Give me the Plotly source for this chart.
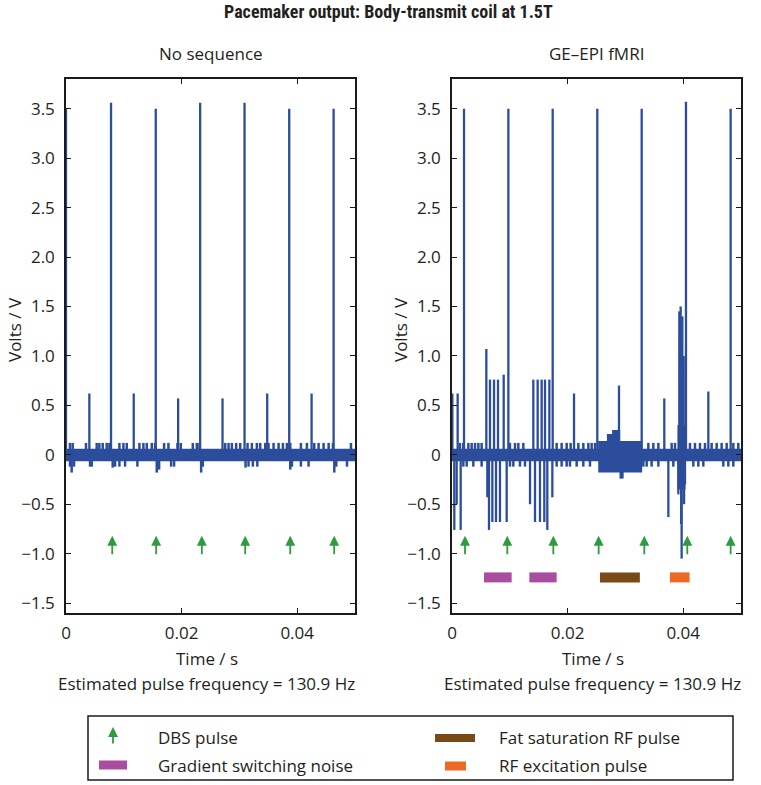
import plotly.graph_objects as go

# ---------------- data ----------------
# Left panel: "No sequence"
left_pulse_t = [0.0, 0.00779, 0.01553, 0.02321, 0.03089, 0.03862, 0.0463]
left_pulse_v = [3.50, 3.56, 3.50, 3.56, 3.56, 3.50, 3.50]
left_small_t = [0.00404, 0.01172, 0.0194, 0.02708, 0.03481, 0.04249]
left_small_v = [0.62, 0.62, 0.57, 0.57, 0.62, 0.62]
left_blip_t = [0.00069, 0.00116, 0.00346, 0.00531, 0.00577, 0.00635, 0.00704, 0.00751,
               0.00924, 0.00993, 0.01051, 0.0127, 0.01339, 0.01397, 0.01484, 0.01541,
               0.01697, 0.01772, 0.01928, 0.01986, 0.02194, 0.02263, 0.02309, 0.02754,
               0.02812, 0.02869, 0.02944, 0.03014, 0.03141, 0.03216, 0.03302, 0.0336,
               0.03447, 0.03504, 0.03591, 0.03678, 0.03753, 0.03822, 0.0388, 0.04064,
               0.04168, 0.04295, 0.0437, 0.04457, 0.04544, 0.04619, 0.0493,
               0.00069, 0.00098, 0.00139, 0.00416, 0.00445, 0.00808, 0.00849, 0.00924,
               0.01022, 0.01235, 0.0157, 0.01611, 0.01819, 0.0187, 0.02338, 0.02367,
               0.03106, 0.03158, 0.03233, 0.0331, 0.0388, 0.03909, 0.04064, 0.04197,
               0.04642, 0.04676, 0.04861]
left_blip_v = [0.12] * 47 + [
               -0.12, -0.18, -0.12, -0.12, -0.12, -0.13, -0.12, -0.12,
               -0.12, -0.12, -0.18, -0.15, -0.12, -0.12, -0.18, -0.12,
               -0.13, -0.12, -0.12, -0.12, -0.15, -0.12, -0.12, -0.12,
               -0.18, -0.12, -0.12]
left_band_t = [0.0, 0.05]
left_band_hi = [0.06, 0.06]
left_band_lo = [-0.065, -0.065]
left_dbs_t = [0.0080, 0.0156, 0.0235, 0.0310, 0.0388, 0.0464]

# Right panel: "GE-EPI fMRI"
right_pulse_t = [0.00208, 0.00975, 0.01742, 0.02514, 0.03282, 0.04048, 0.04821]
right_pulse_v = [3.50, 3.50, 3.50, 3.50, 3.50, 3.57, 3.50]
right_artifact_t = [0.00006, 0.00098, 0.00594, 0.00657, 0.00727, 0.00796, 0.00894,
                    0.01407, 0.01482, 0.01551, 0.01609, 0.01684, 0.02111, 0.02889,
                    0.03673, 0.03933, 0.03945, 0.03956, 0.03985, 0.03995, 0.04008,
                    0.04435,
                    0.0004, 0.00081, 0.0015, 0.00611, 0.0064, 0.00698, 0.00761,
                    0.0083, 0.00946, 0.0135, 0.01436, 0.01522, 0.01597, 0.01649,
                    0.01736, 0.02918, 0.03743, 0.03916, 0.03965, 0.03973, 0.04015,
                    0.04031]
right_artifact_v = [0.62, 0.62, 1.07, 0.76, 0.76, 0.76, 0.81,
                    0.76, 0.76, 0.76, 0.76, 0.76, 0.62, 0.70,
                    0.57, 1.45, 1.20, 1.50, 1.40, 0.80, 1.00,
                    0.64,
                    -0.76, -0.50, -0.76, -0.43, -0.76, -0.68, -0.68,
                    -0.68, -0.68, -0.50, -0.68, -0.68, -0.68, -0.76,
                    -0.43, -0.24, -0.63, -0.40, -0.70, -1.05, -0.50,
                    -0.30]
right_blip_t = [0.00138, 0.00196, 0.00283, 0.0034, 0.00398, 0.00456, 0.00513, 0.01003,
                0.0109, 0.01148, 0.01234, 0.01811, 0.01897, 0.01984, 0.02053, 0.02186,
                0.02272, 0.02359, 0.02416, 0.02474, 0.03397, 0.03483, 0.0357, 0.038,
                0.03858, 0.04117, 0.04204, 0.0429, 0.04377, 0.04492, 0.04579, 0.04665,
                0.04752, 0.04867, 0.04953,
                0.00196, 0.00254, 0.00369, 0.00513, 0.01003, 0.01061, 0.01176, 0.01263,
                0.01811, 0.01897, 0.01984, 0.02041, 0.02157, 0.02272, 0.02387, 0.0331,
                0.03368, 0.03454, 0.0357, 0.03829, 0.04175, 0.04262, 0.04348, 0.04694,
                0.04781, 0.04867]
right_blip_v = [0.12] * 35 + [-0.12] * 26
right_band_t = [0.0, 0.0253, 0.0253, 0.0268, 0.0268, 0.0277, 0.0277, 0.0291, 0.0291,
                0.0297, 0.0297, 0.0329, 0.0329, 0.0390, 0.0390, 0.0404, 0.0404, 0.05]
right_band_hi = [0.06, 0.06, 0.14, 0.14, 0.21, 0.21, 0.25, 0.25, 0.14,
                 0.14, 0.14, 0.14, 0.06, 0.06, 0.30, 0.30, 0.06, 0.06]
right_band_lo = [-0.065, -0.065, -0.18, -0.18, -0.18, -0.18, -0.18, -0.18, -0.24,
                 -0.24, -0.18, -0.18, -0.065, -0.065, -0.35, -0.35, -0.065, -0.065]
right_dbs_t = [0.00225, 0.00957, 0.01753, 0.02537, 0.03327, 0.04071, 0.04821]

# Noise / RF event intervals (right panel)
gradient_start = [0.00554, 0.01338]
gradient_end = [0.01032, 0.01811]
fatsat_start = [0.0256]
fatsat_end = [0.0325]
rfexc_start = [0.0377]
rfexc_end = [0.0411]
event_level = -1.24
arrow_tip, arrow_tail = -0.82, -1.02

y_ticks = [-1.5, -1.0, -0.5, 0, 0.5, 1.0, 1.5, 2.0, 2.5, 3.0, 3.5]
y_ticktext = ["\u22121.5", "\u22121.0", "\u22120.5", "0", "0.5", "1.0", "1.5", "2.0", "2.5", "3.0", "3.5"]
x_ticks = [0, 0.02, 0.04]
x_ticktext = ["0", "0.02", "0.04"]

# ---------------- style ----------------
W, H = 761, 785
BLUE = "#2b4d9b"
GREEN = "#2e9b3e"
MAGENTA = "#a94e9e"
BROWN = "#7a4a16"
ORANGE = "#ec6a24"
TXT = "#231f20"
FONT = "Open Sans"
FS = 17

def px(x):
    return x / W

def py(y):
    return 1 - y / H

def stems(ts, vs):
    xs, ys = [], []
    for t, v in zip(ts, vs):
        xs += [t, t, None]
        ys += [0, v, None]
    return xs, ys

def segs(starts, ends, level):
    xs, ys = [], []
    for a, b in zip(starts, ends):
        xs += [a, b, None]
        ys += [level, level, None]
    return xs, ys

fig = go.Figure()

def add_panel(xa, ya, band_t, band_hi, band_lo, spike_sets, blip_t, blip_v):
    fig.add_trace(go.Scatter(x=band_t + band_t[::-1], y=band_hi + band_lo[::-1],
                             fill="toself", fillcolor=BLUE, line=dict(width=0),
                             mode="lines", xaxis=xa, yaxis=ya, hoverinfo="skip", showlegend=False))
    bx, by = stems(blip_t, blip_v)
    fig.add_trace(go.Scatter(x=bx, y=by, mode="lines", line=dict(color=BLUE, width=2.5),
                             xaxis=xa, yaxis=ya, hoverinfo="skip", showlegend=False))
    for ts, vs in spike_sets:
        sx, sy = stems(ts, vs)
        fig.add_trace(go.Scatter(x=sx, y=sy, mode="lines", line=dict(color=BLUE, width=2.3),
                                 xaxis=xa, yaxis=ya, hoverinfo="skip", showlegend=False))

add_panel("x", "y", left_band_t, left_band_hi, left_band_lo,
          [(left_small_t, left_small_v), (left_pulse_t, left_pulse_v)], left_blip_t, left_blip_v)
add_panel("x2", "y2", right_band_t, right_band_hi, right_band_lo,
          [(right_artifact_t, right_artifact_v), (right_pulse_t, right_pulse_v)],
          right_blip_t, right_blip_v)

for starts, ends, col in [(gradient_start, gradient_end, MAGENTA),
                          (fatsat_start, fatsat_end, BROWN),
                          (rfexc_start, rfexc_end, ORANGE)]:
    sx, sy = segs(starts, ends, event_level)
    fig.add_trace(go.Scatter(x=sx, y=sy, mode="lines", line=dict(color=col, width=10),
                             xaxis="x2", yaxis="y2", hoverinfo="skip", showlegend=False))

annotations = []
for xr, yr, ts in [("x", "y", left_dbs_t), ("x2", "y2", right_dbs_t)]:
    for t in ts:
        annotations.append(dict(x=t, y=arrow_tip, ax=t, ay=arrow_tail, xref=xr, yref=yr,
                                axref=xr, ayref=yr, text="", showarrow=True,
                                arrowhead=2, arrowsize=1.1, arrowwidth=1.8, arrowcolor=GREEN))

def txt(x, y, s, size=FS, xanchor="center", bold=False, angle=0, family=FONT):
    annotations.append(dict(x=px(x), y=py(y), xref="paper", yref="paper", text=s,
                            showarrow=False, xanchor=xanchor, yanchor="middle", textangle=angle,
                            font=dict(family=family, size=size, color=TXT,
                                      weight="bold" if bold else "normal")))

L0, L1, R0, R1, TOP, BOT = 66, 355, 452, 741, 79, 613
txt(388, 12, "Pacemaker output: Body-transmit coil at 1.5T", size=18, bold=True,
    family="Liberation Sans Narrow, Roboto Condensed, Open Sans")
txt((L0 + L1) / 2, 54, "No sequence")
txt((R0 + R1) / 2, 54, "GE\u2013EPI fMRI")
for c in [(L0 + L1) / 2, (R0 + R1) / 2]:
    txt(c - 4, 658, "Time / s")
    txt(c - 4, 683, "Estimated pulse frequency = 130.9 Hz")
txt(14, 330, "Volts / V", angle=-90)
txt(400, 330, "Volts / V", angle=-90)

# legend (drawn)
txt(156, 737, "DBS pulse", xanchor="left")
txt(156, 765, "Gradient switching noise", xanchor="left")
txt(497, 737, "Fat saturation RF pulse", xanchor="left")
txt(497, 765, "RF excitation pulse", xanchor="left")
annotations.append(dict(x=px(113), y=py(727), ax=0, ay=18, xref="paper", yref="paper",
                        text="", showarrow=True, arrowhead=2, arrowsize=1.1, arrowwidth=1.8,
                        arrowcolor=GREEN))

shapes = [
    dict(type="rect", xref="paper", yref="paper", x0=px(88), x1=px(733), y0=py(780), y1=py(716),
         line=dict(color="#1a1a1a", width=1.5), fillcolor="rgba(0,0,0,0)"),
    dict(type="line", xref="paper", yref="paper", x0=px(99), x1=px(127), y0=py(765), y1=py(765),
         line=dict(color=MAGENTA, width=9)),
    dict(type="line", xref="paper", yref="paper", x0=px(435), x1=px(475), y0=py(738), y1=py(738),
         line=dict(color=BROWN, width=8)),
    dict(type="line", xref="paper", yref="paper", x0=px(445), x1=px(466), y0=py(766), y1=py(766),
         line=dict(color=ORANGE, width=9)),
]

axis_common = dict(showline=True, linecolor="#1a1a1a", linewidth=1.5, mirror="ticks",
                   ticks="inside", ticklen=5, tickwidth=1.3, tickcolor="#1a1a1a",
                   showgrid=False, zeroline=False, automargin=False,
                   tickfont=dict(family=FONT, size=FS, color=TXT))

fig.update_layout(
    template="none",
    width=W, height=H, margin=dict(l=0, r=0, t=0, b=0, autoexpand=False),
    paper_bgcolor="white", plot_bgcolor="white", showlegend=False,
    xaxis=dict(domain=[px(L0), px(L1)], range=[0, 0.05], anchor="y",
               tickvals=x_ticks, ticktext=x_ticktext, ticklabelstandoff=4, **axis_common),
    yaxis=dict(domain=[py(BOT), py(TOP)], range=[-1.6, 3.8], anchor="x",
               tickvals=y_ticks, ticktext=y_ticktext, ticklabelstandoff=6, **axis_common),
    xaxis2=dict(domain=[px(R0), px(R1)], range=[0, 0.05], anchor="y2",
                tickvals=x_ticks, ticktext=x_ticktext, ticklabelstandoff=4, **axis_common),
    yaxis2=dict(domain=[py(BOT), py(TOP)], range=[-1.6, 3.8], anchor="x2",
                tickvals=y_ticks, ticktext=y_ticktext, ticklabelstandoff=6, **axis_common),
    annotations=annotations, shapes=shapes,
)

fig.write_html("out.html", config={"displayModeBar": False},
               post_script="document.body.style.margin='0';document.body.style.overflow='hidden';")
